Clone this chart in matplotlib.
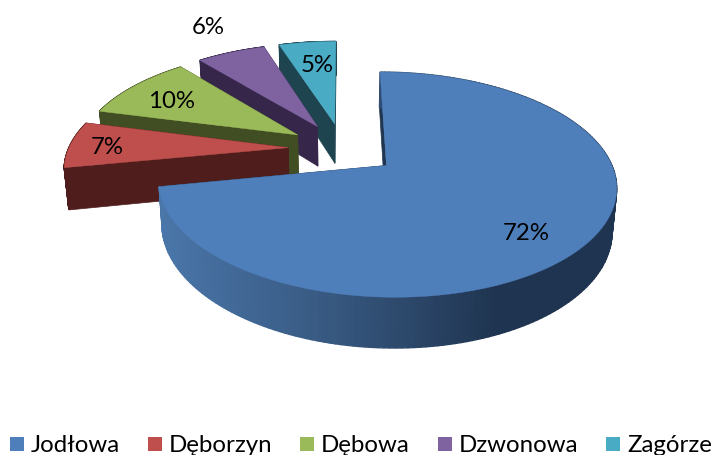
import numpy as np
import matplotlib
matplotlib.use("Agg")
import matplotlib.pyplot as plt
from matplotlib.colors import to_rgb
from matplotlib.patches import Rectangle

names = ["Jodłowa", "Dęborzyn", "Dębowa", "Dzwonowa", "Zagórze"]
values = [72, 7, 10, 6, 5]
labels = ["72%", "7%", "10%", "6%", "5%"]
top_colors = ["#4F7FBB", "#BE4F4C", "#9ABA59", "#7F63A1", "#4AABC5"]
wall_colors = ["#1F3550", "#4F1E1C", "#414D22", "#35264A", "#1E4450"]

# layout, in pixels
label_pos = [(526, 234), (107, 147), (172, 101), (208, 28), (317, 66)]
legend_x = [10, 148, 300, 438, 606]

cx, cy = 343, 148.5
ax_x, ax_y = 219.5, 103.6
persp = 0.166
explode = 0.25
depth = 41

plt.rcParams["font.family"] = ["Lato", "DejaVu Sans"]


def project(x, y, z=0.0):
    s = 1 / (1 + persp * y)
    sx = cx + ax_x * x * s * (1 - 0.017 * z)
    sy = cy - ax_y * y * s + depth * z * s
    return sx, sy


fig = plt.figure(figsize=(7.13, 4.55), dpi=100)
ax = fig.add_axes([0, 0, 1, 1])
ax.set_xlim(0, 713)
ax.set_ylim(455, 0)
ax.axis("off")

# angles run clockwise from the top
edges = np.cumsum([0] + values) / sum(values) * 2 * np.pi
slices = []
for i in range(len(values)):
    t0, t1 = edges[i], edges[i + 1]
    mid = (t0 + t1) / 2
    slices.append((i, t0, t1, explode * np.sin(mid), explode * np.cos(mid)))

# back slices first, main slice last
for i, t0, t1, ox, oy in [slices[4], slices[3], slices[2], slices[1], slices[0]]:
    th = np.linspace(t0, t1, 200)
    ex = ox + np.sin(th)
    ey = oy + np.cos(th)

    # flat cut walls
    for t in (t0, t1):
        px = [ox, ox + np.sin(t)]
        py = [oy, oy + np.cos(t)]
        a = [project(px[0], py[0], 0), project(px[1], py[1], 0),
             project(px[1], py[1], 1), project(px[0], py[0], 1)]
        ax.fill(*zip(*a), color=wall_colors[i], lw=0.5, zorder=i * -3 + 20)

    # outer wall, shaded in strips
    for j in range(len(th) - 1):
        a = [project(ex[j], ey[j], 0), project(ex[j + 1], ey[j + 1], 0),
             project(ex[j + 1], ey[j + 1], 1), project(ex[j], ey[j], 1)]
        col = wall_colors[i]
        if i == 0:
            mx = (a[0][0] + a[1][0]) / 2
            c0 = to_rgb("#4A76A9")
            c1 = to_rgb("#375880")
            c2 = to_rgb("#1F3450")
            col = tuple(np.interp(mx, [160, 330, 500], [c0[k], c1[k], c2[k]]) for k in range(3))
        ax.fill(*zip(*a), color=col, lw=1, zorder=i * -3 + 21)

    # top face
    pts = [project(ox, oy)] + [project(x, y) for x, y in zip(ex, ey)]
    ax.fill(*zip(*pts), color=top_colors[i], lw=0.3, zorder=i * -3 + 22)

for lab, (x, y) in zip(labels, label_pos):
    ax.text(x, y, lab, fontsize=17.3, ha="center", va="center", color="black", zorder=40)

for name, col, x in zip(names, top_colors, legend_x):
    ax.add_patch(Rectangle((x, 437), 14, 14, color=col, lw=0))
    ax.text(x + 21, 445, name, fontsize=17.3, ha="left", va="center", color="black")

fig.savefig("out.png", dpi=100)
